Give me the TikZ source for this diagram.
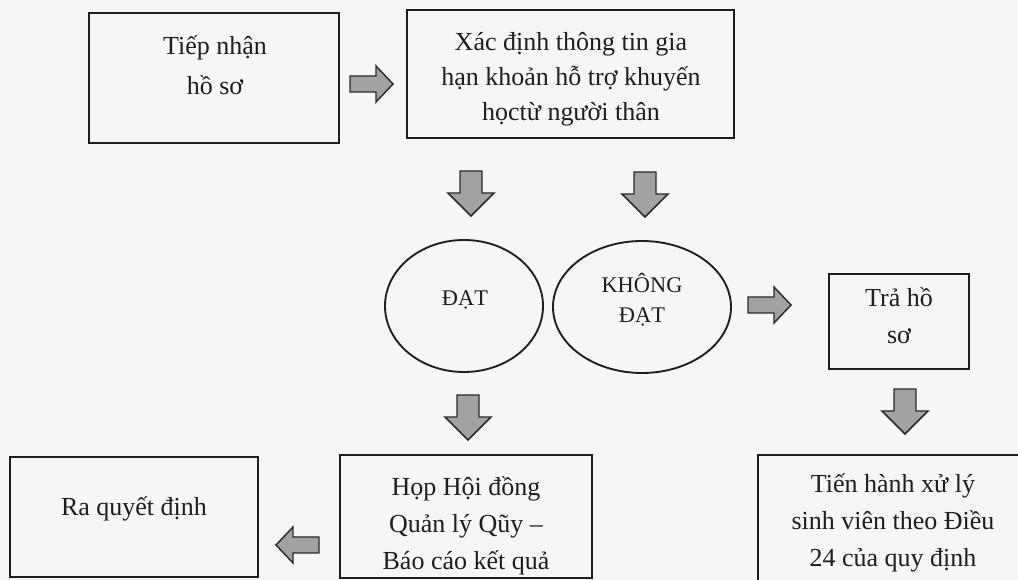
\documentclass[tikz,border=0pt]{standalone}
\usepackage{fontspec}
\setmainfont{Liberation Serif}
\usetikzlibrary{fit,calc,shapes.geometric}
\definecolor{bgc}{HTML}{F6F6F4}
\definecolor{inkc}{HTML}{1E1E1E}
\definecolor{arrfill}{HTML}{A2A2A2}
\definecolor{arrdraw}{HTML}{2A2A2A}
\newcommand{\linesT}[1]{\begin{tabular}[t]{@{}c@{}}#1\end{tabular}}
\tikzset{
  box/.style={draw=inkc, line width=1.5pt, inner sep=0pt},
  oval/.style={draw=inkc, line width=1.4pt, ellipse, inner sep=0pt},
  tbig/.style={anchor=base, inner sep=0pt, text=inkc, font=\fontsize{19.5}{30}\selectfont},
  tmid/.style={anchor=base, inner sep=0pt, text=inkc, font=\fontsize{19.5}{26.25}\selectfont},
  ttra/.style={anchor=base, inner sep=0pt, text=inkc, font=\fontsize{19.5}{27.75}\selectfont},
  tlow/.style={anchor=base, inner sep=0pt, text=inkc, font=\fontsize{19.5}{27.5}\selectfont},
  tov/.style={anchor=base, inner sep=0pt, text=inkc, font=\fontsize{16.8}{22.5}\selectfont},
  arrstyle/.style={draw=arrdraw, fill=arrfill, line width=1.1pt, line join=miter},
  harrow/.pic={\path[arrstyle] (-21,-8) -- (5,-8) -- (5,-18) -- (22,0) -- (5,18) -- (5,8) -- (-21,8) -- cycle;},
  varrow/.pic={\path[arrstyle] (-22,-11) -- (0,-11) -- (0,-23) -- (23,0) -- (0,23) -- (0,11) -- (-22,11) -- cycle;}
}
\begin{document}
\begin{tikzpicture}[x=0.75pt,y=-0.75pt]
\useasboundingbox (0,0) rectangle (1018,580);
\fill[bgc] (0,0) rectangle (1018,580);
\clip (0,0) rectangle (1018,580);

% boxes
\node[box, fit={(89,13) (339,143)}] (b1) {};
\node[box, fit={(407,10) (734,138)}] (b2) {};
\node[oval, minimum width=158*0.75pt, minimum height=132*0.75pt] (e1) at (464,306) {};
\node[oval, minimum width=178*0.75pt, minimum height=132*0.75pt] (e2) at (642,307) {};
\node[box, fit={(829,274) (969,369)}] (b3) {};
\node[box, fit={(758,455) (1040,600)}] (b4) {};
\node[box, fit={(340,455) (592,578)}] (b5) {};
\node[box, fit={(10,457) (258,577)}] (b6) {};

% texts
\node[tbig] (t1) at (215,55) {\linesT{Tiếp nhận\\hồ sơ}};
\node[tmid] (t2) at (571,51) {\linesT{Xác định thông tin gia\\hạn khoản hỗ trợ khuyến\\họctừ người thân}};
\node[tov] (t3) at (465,306) {ĐẠT};
\node[tov] (t4) at (642,293) {\linesT{KHÔNG\\ĐẠT}};
\node[ttra] (t5) at (899,307) {\linesT{Trả hồ\\sơ}};
\node[tlow] (t6) at (893,493) {\linesT{Tiến hành xử lý\\sinh viên theo Điều\\24 của quy định}};
\node[tlow] (t7) at (466,496) {\linesT{Họp Hội đồng\\Quản lý Qũy –\\Báo cáo kết quả}};
\node[tbig] (t8) at (134,516) {Ra quyết định};

% block arrows
\pic at (371,84) {harrow};
\pic[rotate=-90] at (471,193) {varrow};
\pic[rotate=-90] at (645,194) {varrow};
\pic at (769,305) {harrow};
\pic[rotate=-90] at (905,411) {varrow};
\pic[rotate=-90] at (468,417) {varrow};
\pic[rotate=180] at (298,545) {harrow};
\end{tikzpicture}
\end{document}
